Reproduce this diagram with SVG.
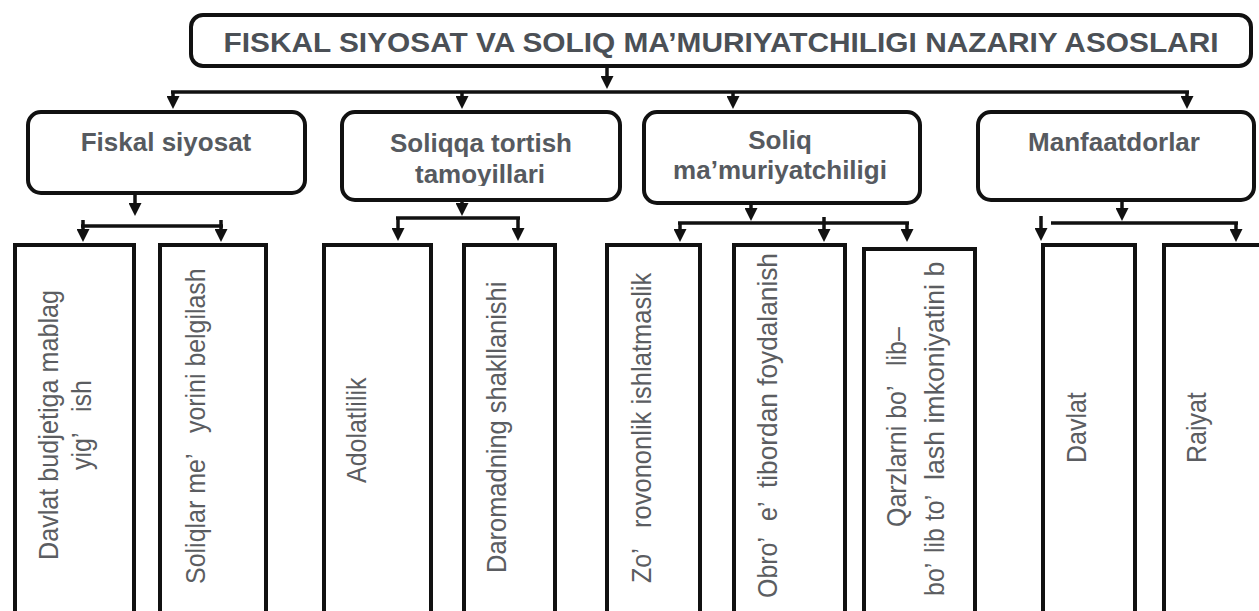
<svg xmlns="http://www.w3.org/2000/svg" width="1259" height="611" viewBox="0 0 1259 611">
<style>
.rb{fill:#fff;stroke:#111;stroke-width:4}
.sb{fill:#fff;stroke:#111;stroke-width:4}
.h{font-family:"Liberation Sans",Arial,sans-serif;font-weight:bold;fill:#565a60;font-size:26px;text-anchor:middle}
.ttl{font-family:"Liberation Sans",Arial,sans-serif;font-weight:bold;fill:#4b5056;font-size:28px;text-anchor:middle}
.v{font-family:"Liberation Sans",Arial,sans-serif;fill:#5b5d61;font-size:27px}
.c{fill:none;stroke:#111;stroke-width:3.5}
.ca{fill:none;stroke:#111;stroke-width:3.5;marker-end:url(#arr)}
</style>
<defs>
<marker id="arr" viewBox="0 0 13 13" refX="8" refY="6.5" markerWidth="13" markerHeight="13" markerUnits="userSpaceOnUse" orient="auto">
<path d="M0,0 L13,6.5 L0,13 Z" fill="#111"/>
</marker>
<clipPath id="clipTam"><rect x="340" y="160" width="280" height="26"/></clipPath>
</defs>
<rect x="0" y="0" width="1259" height="611" fill="#fff"/>

<g id="n-title">
<rect class="rb" x="191" y="15" width="1060" height="51" rx="12"/>
<text class="ttl" x="721" y="52" textLength="995" lengthAdjust="spacingAndGlyphs">FISKAL SIYOSAT VA SOLIQ MA’MURIYATCHILIGI NAZARIY ASOSLARI</text>
</g>

<g id="n-fiskal">
<rect class="rb" x="28" y="112" width="277" height="81" rx="13"/>
<text class="h" x="166" y="151">Fiskal siyosat</text>
</g>
<g id="n-soliqqa">
<rect class="rb" x="342" y="112" width="278" height="88" rx="13"/>
<text class="h" x="481" y="152">Soliqqa tortish</text>
<text class="h" x="480" y="183" clip-path="url(#clipTam)">tamoyillari</text>
</g>
<g id="n-soliq">
<rect class="rb" x="644" y="112" width="276" height="91" rx="13"/>
<text class="h" x="780" y="149">Soliq</text>
<text class="h" x="780" y="179">ma’muriyatchiligi</text>
</g>
<g id="n-manf">
<rect class="rb" x="978" y="112" width="276" height="88" rx="13"/>
<text class="h" x="1114" y="151">Manfaatdorlar</text>
</g>

<g id="n-davlat-budjet">
<rect class="sb" x="15" y="245" width="119" height="400"/>
<text class="v" transform="translate(58,560) rotate(-90) scale(0.925,1)" textLength="292" lengthAdjust="spacingAndGlyphs">Davlat budjetiga mablag</text>
<text class="v" transform="translate(91,470) rotate(-90) scale(0.925,1)">yig’</text>
<text class="v" transform="translate(91,412) rotate(-90) scale(0.925,1)">ish</text>
</g>
<g id="n-soliqlar">
<rect class="sb" x="160" y="245" width="106" height="400"/>
<text class="v" transform="translate(205,584) rotate(-90) scale(0.925,1)">Soliqlar me’</text>
<text class="v" transform="translate(205,433) rotate(-90) scale(0.925,1)" textLength="178" lengthAdjust="spacingAndGlyphs">yorini belgilash</text>
</g>
<g id="n-adolat">
<rect class="sb" x="324" y="245" width="107" height="400"/>
<text class="v" transform="translate(366,483) rotate(-90) scale(0.925,1)">Adolatlilik</text>
</g>
<g id="n-daromad">
<rect class="sb" x="464" y="245" width="91" height="400"/>
<text class="v" transform="translate(506,573) rotate(-90) scale(0.925,1)" textLength="315" lengthAdjust="spacingAndGlyphs">Daromadning shakllanishi</text>
</g>
<g id="n-zo">
<rect class="sb" x="607" y="245" width="93" height="400"/>
<text class="v" transform="translate(651,583) rotate(-90) scale(0.925,1)">Zo’</text>
<text class="v" transform="translate(651,528) rotate(-90) scale(0.925,1)" textLength="276" lengthAdjust="spacingAndGlyphs">rovononlik ishlatmaslik</text>
</g>
<g id="n-obro">
<rect class="sb" x="734" y="245" width="111" height="400"/>
<text class="v" transform="translate(777,598) rotate(-90) scale(0.925,1)">Obro’</text>
<text class="v" transform="translate(777,521) rotate(-90) scale(0.925,1)">e’</text>
<text class="v" transform="translate(777,488) rotate(-90) scale(0.925,1)" textLength="254" lengthAdjust="spacingAndGlyphs">tibordan foydalanish</text>
</g>
<g id="n-qarz">
<rect class="sb" x="864" y="249" width="111" height="400"/>
<text class="v" transform="translate(906,527) rotate(-90) scale(0.925,1)">Qarzlarni bo’</text>
<text class="v" transform="translate(906,366) rotate(-90) scale(0.925,1)">lib–</text>
<text class="v" transform="translate(944,596) rotate(-90) scale(0.925,1)">bo’</text>
<text class="v" transform="translate(944,553) rotate(-90) scale(0.925,1)">lib to’</text>
<text class="v" transform="translate(944,480) rotate(-90) scale(0.925,1)" textLength="236" lengthAdjust="spacingAndGlyphs">lash imkoniyatini b</text>
</g>
<g id="n-davlat">
<rect class="sb" x="1043" y="245" width="92" height="400"/>
<text class="v" transform="translate(1086,463) rotate(-90) scale(0.925,1)">Davlat</text>
</g>
<g id="n-raiyat">
<rect class="sb" x="1164" y="245" width="120" height="400"/>
<text class="v" transform="translate(1206,463) rotate(-90) scale(0.925,1)">Raiyat</text>
</g>

<g id="connectors">
<path class="ca" d="M607,68 V84"/>
<path class="c" d="M171,92 H1189"/>
<path class="ca" d="M173,92 V104"/>
<path class="ca" d="M462,92 V104"/>
<path class="ca" d="M733,92 V104"/>
<path class="ca" d="M1187,92 V104"/>

<path class="ca" d="M135,195 V211"/>
<path class="c" d="M81,226 H223"/>
<path class="ca" d="M83,220 V237"/>
<path class="ca" d="M221,220 V237"/>

<path class="ca" d="M462,202 V211"/>
<path class="c" d="M396,218 H520"/>
<path class="ca" d="M398,218 V236"/>
<path class="ca" d="M518,218 V236"/>

<path class="ca" d="M751,205 V216"/>
<path class="c" d="M678,223 H909"/>
<path class="ca" d="M680,223 V237"/>
<path class="ca" d="M824,217 V237"/>
<path class="ca" d="M907,223 V237"/>

<path class="ca" d="M1122,202 V216"/>
<path class="c" d="M1051,223 H1238"/>
<path class="ca" d="M1041,216 V236"/>
<path class="ca" d="M1236,223 V237"/>
</g>
</svg>
